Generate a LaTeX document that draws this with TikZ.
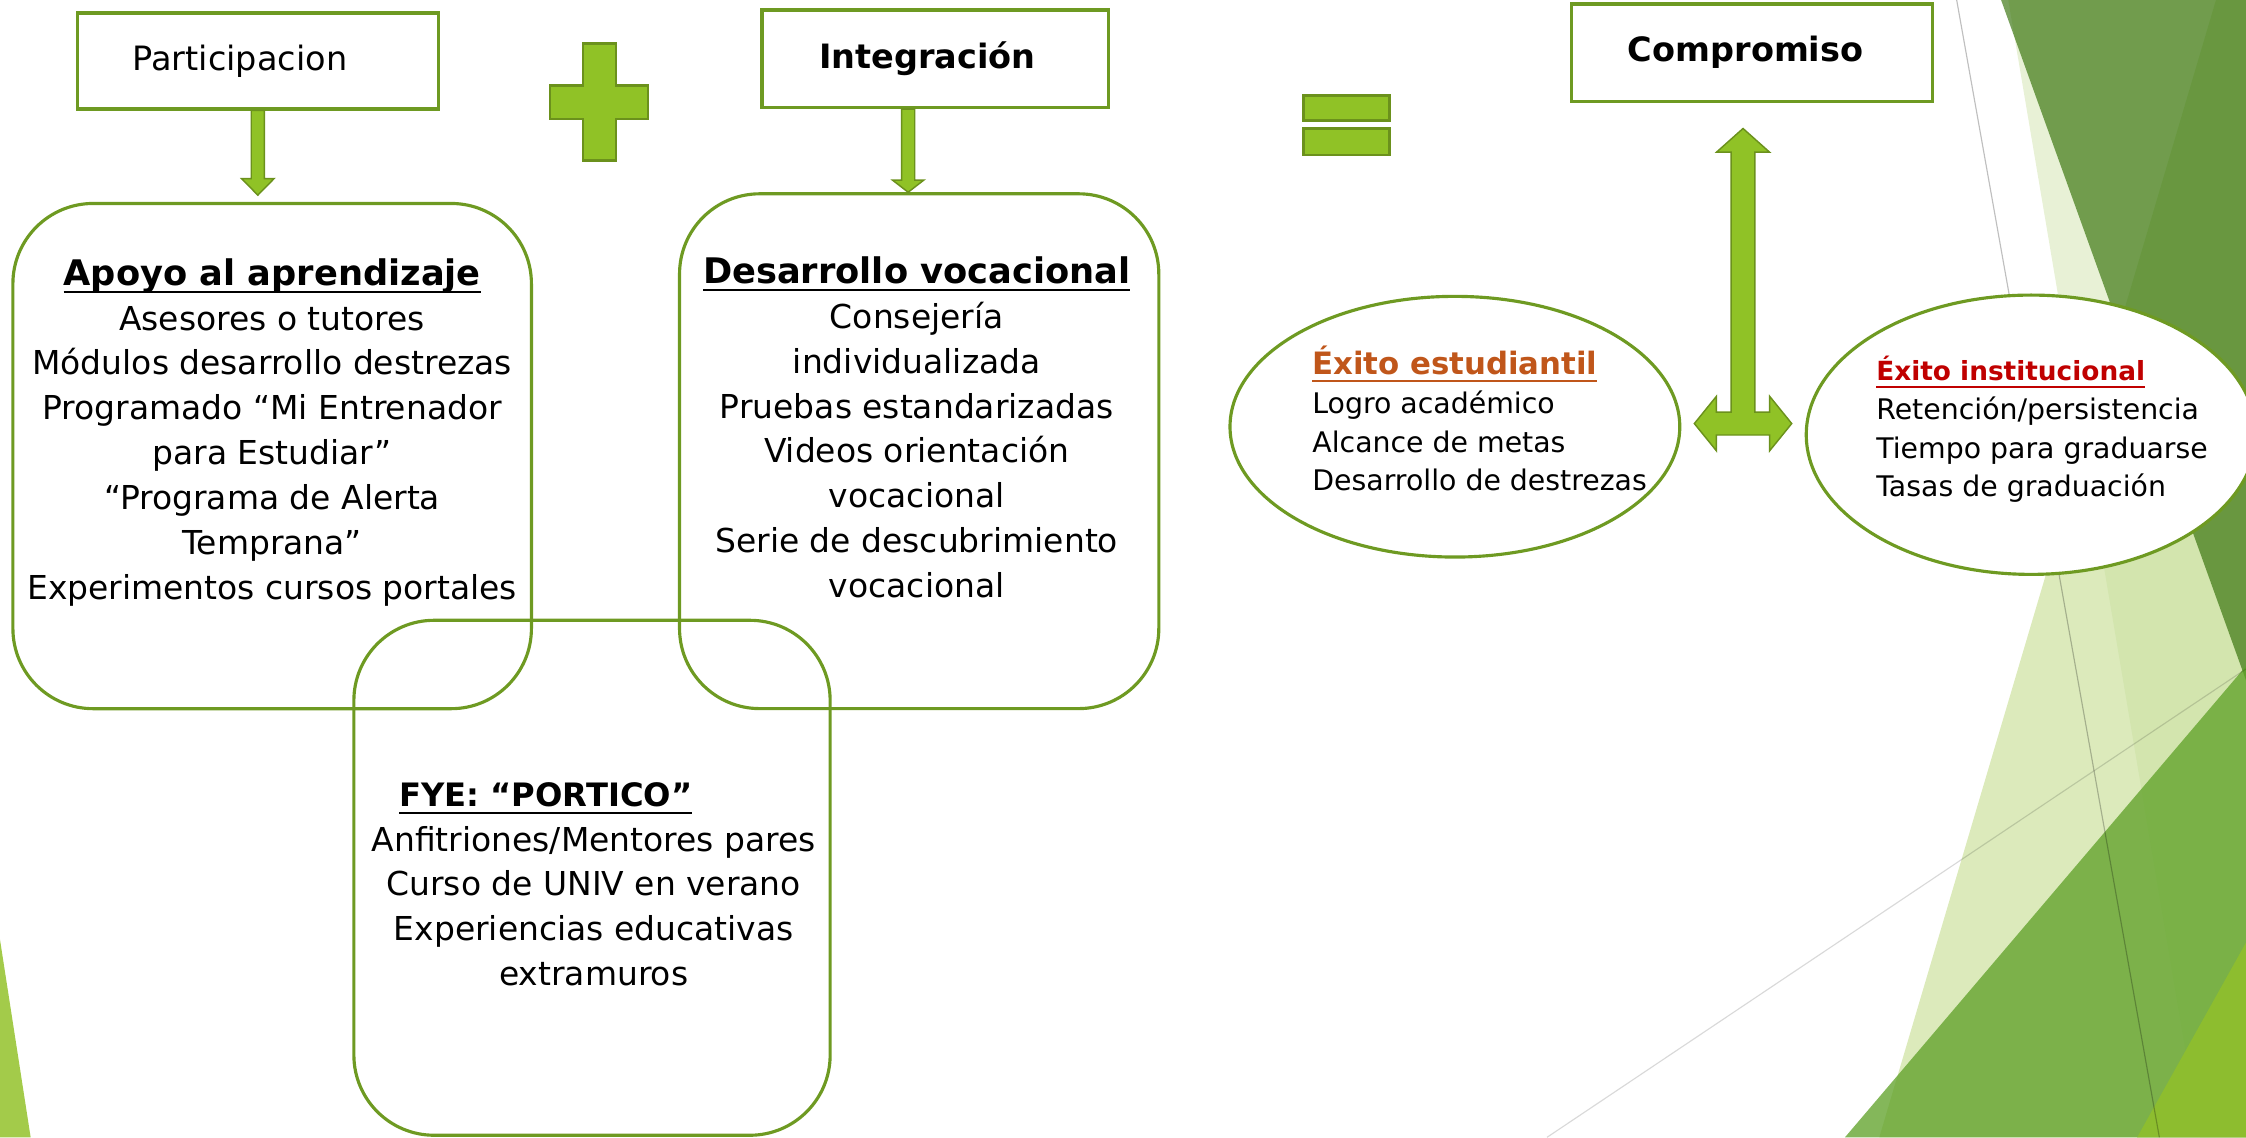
\documentclass[tikz,border=0pt]{standalone}
\usepackage{fontspec}
\setmainfont{DejaVu Sans}
\usetikzlibrary{shapes.geometric,calc}
\definecolor{accentfill}{HTML}{90C226}
\definecolor{accentline}{HTML}{6B911C}
\definecolor{boxline}{HTML}{6E9A22}
\definecolor{estucol}{HTML}{C0561A}
\definecolor{instcol}{HTML}{C00000}
\definecolor{bgpale}{RGB}{196,220,142}
\definecolor{bgmist}{RGB}{200,222,157}
\definecolor{bgdark}{RGB}{49,111,5}
\definecolor{bgmid}{RGB}{95,161,40}
\definecolor{bglime}{HTML}{8DBD2F}
\definecolor{bgleaf}{HTML}{A3CB4A}
\newcommand{\ulbold}[1]{\setbox0\hbox{#1}\rlap{\rule[-5.1pt]{\wd0}{1.4pt}}\box0}

\begin{document}
\begin{tikzpicture}[x=1pt, y=-1pt,
    headbox/.style={draw=boxline, line width=2.3pt, fill=white, inner sep=0pt,
      font=\fontsize{23.4}{28}\selectfont},
    roundbox/.style={draw=boxline, line width=2.2pt, rounded corners=56pt, inner sep=0pt},
    oval/.style={ellipse, draw=boxline, line width=2.2pt, fill=white, inner sep=0pt},
    boxtext/.style={align=center, inner sep=0pt, anchor=north,
      font=\fontsize{23}{31.3}\selectfont},
    ovaltext/.style={align=left, inner sep=0pt, anchor=north west,
      font=\fontsize{19.8}{27}\selectfont},
    blockarrow/.style={fill=accentfill, draw=accentline, line width=1pt, line join=miter},
    signshape/.style={fill=accentfill, draw=accentline, line width=2pt},
    bgline/.style={draw=black, line width=0.8pt}]
  \useasboundingbox (0,0) rectangle (1568,794);

  % background facets
  \fill[bgpale, opacity=0.6] (1547,0) -- (1568,0) -- (1568,794) -- (1312,794) -- cycle;
  \fill[bgmist, opacity=0.42] (1402,0) -- (1568,0) -- (1568,794) -- (1536,794) -- cycle;
  \fill[bgdark, opacity=0.65] (1397,0) -- (1568,0) -- (1568,475) -- cycle;
  \fill[bgmid, opacity=0.77] (1288,794) -- (1568,465) -- (1568,794) -- cycle;
  \fill[bglime] (1492,794) -- (1568,658) -- (1568,794) -- cycle;
  \fill[bgleaf] (0,656) -- (21.4,794) -- (0,794) -- cycle;
  \draw[bgline, opacity=0.25] (1366,0) -- (1507.5,794);
  \draw[bgline, opacity=0.15] (1080,794) -- (1568,467);

  % top row
  \node[headbox, minimum width=252pt, minimum height=67pt] (part) at (180,42.5)
    {\hspace*{-25pt}Participacion};
  \node[headbox, minimum width=242pt, minimum height=68pt] (integ) at (653,41)
    {\hspace*{-11pt}\bfseries Integración};
  \node[headbox, minimum width=252pt, minimum height=68pt] (comp) at (1223,36.8)
    {\hspace*{-8.6pt}\bfseries Compromiso};

  % plus and equals
  \draw[signshape] (407,30.3) -- (430,30.3) -- (430,59.8) -- (452.4,59.8) -- (452.4,83.1)
    -- (430,83.1) -- (430,112.2) -- (407,112.2) -- (407,83.1) -- (384,83.1) -- (384,59.8)
    -- (407,59.8) -- cycle;
  \draw[signshape] (910,66.8) rectangle (970,84.2);
  \draw[signshape] (910,90) rectangle (970,108.2);

  % rounded boxes
  \node[roundbox, minimum width=362pt, minimum height=352.7pt] (apoyo) at (190,318.4) {};
  \node[roundbox, minimum width=334.6pt, minimum height=359.4pt] (desa) at (641.7,315) {};
  \node[roundbox, minimum width=332.5pt, minimum height=359.5pt] (fye) at (413.3,612.8) {};

  \node[boxtext] (apoyotxt) at (190,180.3)
    {{\fontsize{24.6}{31.3}\selectfont\bfseries\ulbold{Apoyo al aprendizaje}}\\
     Asesores o tutores\\
     Módulos desarrollo destrezas\\
     Programado “Mi Entrenador\\
     para Estudiar”\\
     “Programa de Alerta\\
     Temprana”\\
     Experimentos cursos portales};
  \node[boxtext] (desatxt) at (640,179.1)
    {{\fontsize{24.6}{31.3}\selectfont\bfseries\ulbold{Desarrollo vocacional}}\\
     Consejería\\
     individualizada\\
     Pruebas estandarizadas\\
     Videos orientación\\
     vocacional\\
     Serie de descubrimiento\\
     vocacional};
  \node[boxtext] (fyetxt) at (414.5,546)
    {{\fontsize{22.5}{31.3}\selectfont\bfseries\ulbold{FYE: “PORTICO”}}\hspace*{67pt}\\
     Anfitriones/Mentores pares\\
     Curso de UNIV en verano\\
     Experiencias educativas\\
     extramuros};

  % ovals
  \node[oval, minimum width=314pt, minimum height=182pt] (estu) at (1015.7,297.9) {};
  \node[oval, minimum width=314pt, minimum height=195pt] (inst) at (1418,303.5) {};
  \node[ovaltext] (estutxt) at (916,241.6)
    {{\color{estucol}\fontsize{21.5}{27}\selectfont\bfseries\ulbold{Éxito estudiantil}}\\
     Logro académico\\
     Alcance de metas\\
     Desarrollo de destrezas};
  \node[ovaltext] (insttxt) at (1309.7,248.7)
    {{\color{instcol}\fontsize{18.4}{27}\selectfont\bfseries\ulbold{Éxito institucional}}\\
     Retención/persistencia\\
     Tiempo para graduarse\\
     Tasas de graduación};

  % block arrows
  \coordinate (ptop) at (part.south);
  \coordinate (pbot) at ($(part.south |- apoyo.north)+(0,-4.7)$);
  \draw[blockarrow] let \p1=(ptop), \p2=(pbot) in
    (\x1-4.6pt,\y1) -- (\x1+4.6pt,\y1) -- (\x1+4.6pt,\y2+11.6pt) -- (\x1+11.4pt,\y2+11.6pt)
    -- (\x1,\y2) -- (\x1-11.4pt,\y2+11.6pt) -- (\x1-4.6pt,\y2+11.6pt) -- cycle;
  \coordinate (itop) at ([xshift=-19pt]integ.south);
  \coordinate (ibot) at (itop |- desa.north);
  \draw[blockarrow] let \p1=(itop), \p2=(ibot) in
    (\x1-4.6pt,\y1) -- (\x1+4.6pt,\y1) -- (\x1+4.6pt,\y2+8.5pt) -- (\x1+11pt,\y2+8.5pt)
    -- (\x1,\y2) -- (\x1-11pt,\y2+8.5pt) -- (\x1-4.6pt,\y2+8.5pt) -- cycle;

  \coordinate (tcen) at ($(estu.east)!0.5!(inst.west)+(0,-5)$);
  \begin{scope}[shift={(tcen)}]
    \draw[blockarrow] (0,-206) -- (18.5,-189.5) -- (8.3,-189.5) -- (8.3,-8) -- (18.6,-8)
      -- (18.6,-19) -- (34,0) -- (18.6,19) -- (18.6,8) -- (-18.6,8) -- (-18.6,19)
      -- (-34,0) -- (-18.6,-19) -- (-18.6,-8) -- (-8.3,-8) -- (-8.3,-189.5)
      -- (-18.5,-189.5) -- cycle;
  \end{scope}
\end{tikzpicture}
\end{document}
